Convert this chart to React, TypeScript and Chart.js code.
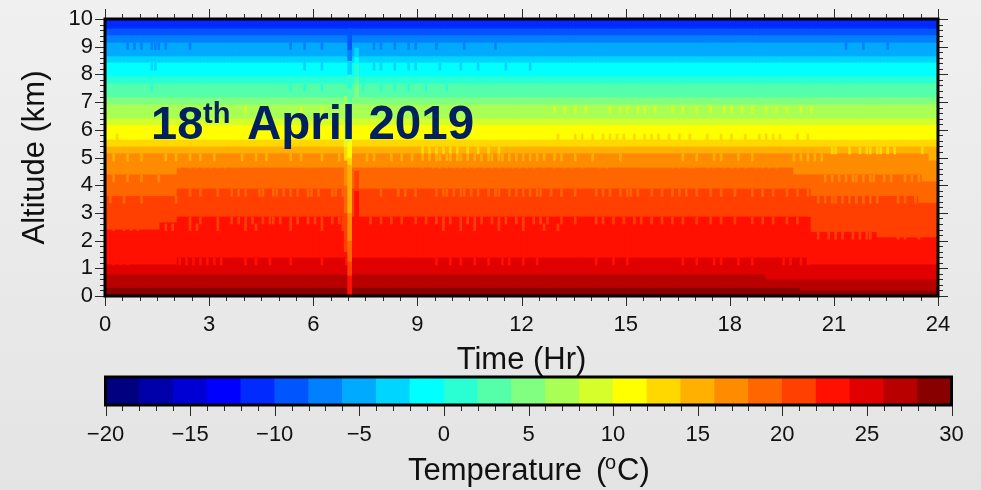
import React, { useEffect, useRef } from "react";
import { Chart, registerables } from "chart.js";

Chart.register(...registerables);

const FONT = "'Liberation Sans', Arial, sans-serif";

// colour scale: lower edge of every 2-degree class, and its colour
const bandTemps = [-20, -18, -16, -14, -12, -10, -8, -6, -4, -2, 0, 2, 4, 6, 8, 10, 12, 14, 16, 18, 20, 22, 24, 26, 28];
const bandColors = [
  "#000080", "#0000aa", "#0000d5", "#0000ff", "#002aff", "#0055ff", "#0080ff", "#00aaff", "#00d5ff", "#00ffff",
  "#2affd4", "#55ffaa", "#80ff80", "#aaff55", "#d4ff2a", "#ffff00", "#ffd800", "#ffb000", "#ff8c00", "#ff6600",
  "#ff4000", "#ff1000", "#e00000", "#b80000", "#880000",
];
const colorTicks = [-20, -15, -10, -5, 0, 5, 10, 15, 20, 25, 30];

// time columns of the field (0.1 hr)
const timeColumns: string[] = [];
for (let i = 0; i < 240; i++) timeColumns.push((i / 10).toFixed(1));

// top altitude (km) of each temperature class: [from hour, altitude]
const classTops: [number, [number, number][]][] = [
  [-12, [[0, 10]]],
  [-10, [[0, 9.64]]],
  [-8, [[0, 9.39]]],
  [-6, [[0, 9.13]]],
  [-4, [[0, 8.63]]],
  [-2, [[0, 8.41]]],
  [0, [[0, 7.91]]],
  [2, [[0, 7.65]]],
  [4, [[0, 7.15]]],
  [6, [[0, 6.9]]],
  [8, [[0, 6.39]]],
  [10, [[0, 6.14]]],
  [12, [[0, 5.63]]],
  [14, [[0, 5.38]]],
  [16, [[0, 5.13], [23.7, 4.87]]],
  [18, [[0, 4.37], [2.1, 4.62], [19.8, 4.37], [23.5, 4.12]]],
  [20, [[0, 3.6], [2.1, 3.86], [20.3, 3.6], [23.4, 3.35]]],
  [22, [[0, 2.38], [1.6, 2.64], [2.1, 2.85], [20.3, 2.3], [22.2, 2.1]]],
  [24, [[0, 1.12], [2.1, 1.37], [20.2, 1.12]]],
  [26, [[0, 0.76], [19, 0.58]]],
  [28, [[0, 0.28], [20, 0.18]]],
];

// short excursions: [class, from km, to km, hours]
const excursions: [number, number, number, number[]][] = [
  [-8, 8.9, 9.13, [0.6, 0.8, 1.0, 1.3, 1.4, 1.5, 1.7, 2.4, 5.3, 5.7, 6.2, 7.7, 7.9, 8.3, 8.7, 8.9, 9.5, 10.3, 11.2, 21.3, 21.8, 22.5]],
  [-4, 8.15, 8.41, [1.3, 1.4, 5.7, 6.2, 7.7, 7.9, 8.3, 8.7, 8.9, 9.6, 10.2, 10.7, 11.5, 12.2]],
  [0, 7.4, 7.65, [1.3, 5.3, 5.7, 6.2, 7.4, 7.9, 8.3, 8.7, 9.2, 9.8]],
  [8, 6.6, 6.85, [3.4, 4.0, 4.6, 5.6, 6.2, 12.9, 13.2, 13.5, 13.8, 14.5, 14.8, 15.0, 15.3, 15.5, 15.8, 16.3, 16.6, 17.0, 17.4, 17.8, 18.0, 18.3, 18.6, 19.0, 19.3, 19.6, 20.0, 20.3]],
  [12, 5.63, 5.85, [0.3, 13.0, 13.5, 13.7, 14.0, 14.3, 14.5, 14.7, 14.9, 15.2, 15.5, 15.7, 15.9, 16.2, 16.5, 16.8, 17.3, 17.7, 18.0, 18.4, 18.8, 19.0, 19.2, 19.4, 19.9, 20.2]],
  [12, 5.13, 5.38, [9.1, 9.3, 9.5, 9.7, 9.9, 10.1, 10.4, 10.7, 11.0, 11.3, 20.9, 21.0, 21.4, 21.7, 21.9, 22.0, 22.2, 22.3, 22.5, 22.7, 23.5]],
  [14, 4.87, 5.13, [0.2, 0.6, 1.0, 1.7, 2.0, 2.4, 2.7, 3.1, 3.9, 4.3, 4.6, 5.3, 5.6, 6.2, 6.7, 7.5, 7.7, 8.2, 8.5, 8.8, 9.1, 9.3, 9.5, 9.6, 9.8, 9.9, 10.1, 10.2, 10.4, 10.6, 10.8, 11.0, 11.1, 11.3, 11.4, 11.6, 11.8, 12.0, 12.2, 12.4, 12.6, 12.9, 13.1, 13.5, 14.0, 14.8, 16.6, 17.0, 17.5, 17.7, 18.2, 18.6, 19.8, 20.0, 20.2, 20.4, 20.6]],
  [16, 4.62, 4.87, [2.1, 2.4, 2.6, 2.8, 3.0, 3.2, 3.4, 9.1, 9.4, 9.6, 9.8, 10.0, 10.2, 10.4, 10.6, 10.9, 11.1, 11.3, 11.5, 11.7, 11.9, 12.1, 12.3, 12.6, 12.9, 13.2, 13.4, 13.7, 14.2, 14.4, 16.3, 16.5, 16.8, 16.9, 17.3, 17.5, 17.8, 18.0, 18.2, 18.4, 18.7, 18.9, 19.1, 19.3, 19.9, 20.0]],
  [16, 4.12, 4.37, [0.2, 0.6, 1.0, 1.5, 20.7, 20.9, 21.1, 21.3, 21.5, 21.6, 21.8, 22.0, 22.1, 22.4, 22.6, 23.0, 23.2, 23.4]],
  [18, 3.6, 3.86, [2.4, 2.7, 3.2, 3.6, 3.8, 4.0, 4.4, 4.5, 4.8, 4.9, 5.1, 5.3, 5.5, 5.8, 5.9, 6.1, 6.5, 6.6, 6.8, 7.9, 8.4, 8.6, 8.9, 9.5, 9.7, 9.8, 10.0, 10.2, 10.3, 10.5, 10.7, 11.0, 11.2, 11.3, 11.6, 11.8, 12.0, 12.2, 12.4, 12.5, 12.8, 13.1, 13.5, 14.1, 14.3, 14.5, 14.8, 15.0, 15.1, 15.3, 15.7, 16.0, 16.3, 16.5, 16.7, 17.0, 17.4, 17.7, 18.1, 18.6, 18.9, 19.2, 19.6, 19.9, 20.2]],
  [18, 3.35, 3.6, [0.1, 0.5, 1.0, 2.0, 20.5, 20.7, 20.9, 21.0, 21.2, 21.4, 21.6, 21.8, 22.0, 22.2, 22.8, 23.0, 23.3]],
  [20, 2.6, 2.85, [2.4, 2.7, 3.2, 3.6, 3.8, 4.0, 4.2, 4.5, 4.7, 4.8, 5.0, 5.3, 5.5, 5.8, 6.0, 6.2, 6.5, 6.7, 6.8, 7.6, 7.9, 8.2, 8.5, 8.9, 9.2, 9.5, 9.7, 9.9, 10.2, 10.4, 10.6, 10.8, 11.1, 11.3, 11.5, 11.8, 12.0, 12.3, 12.5, 12.7, 13.1, 13.5, 14.1, 14.3, 14.6, 14.9, 15.2, 15.4, 15.7, 16.0, 16.3, 16.6, 17.0, 17.4, 17.7, 18.1, 18.6, 18.9, 19.2, 19.6, 19.9]],
  [20, 2.36, 2.6, [0.2, 0.5, 0.7, 0.9, 1.7, 1.9, 2.4, 2.6, 3.2, 4.0, 4.3, 5.3, 6.2, 6.8, 9.7, 10.2, 10.6, 11.3, 12.0, 12.6, 13.0]],
  [20, 2.05, 2.3, [20.5, 20.8, 21.0, 21.2, 21.5, 21.7, 21.9, 22.0, 22.8, 23.0, 23.4]],
  [22, 1.12, 1.37, [0.2, 0.4, 0.6, 2.1, 2.3, 2.5, 2.7, 2.9, 3.1, 3.3, 4.0, 4.3, 4.7, 5.3, 6.2, 6.9, 9.5, 9.9, 10.2, 10.6, 11.0, 11.4, 11.6, 12.0, 12.4, 14.1, 14.6, 15.0, 16.6, 17.0, 17.5, 17.7, 18.2, 18.6, 19.5, 19.7, 20.0, 20.2]],
];

// warm-air column near 07 hr: [class, from km, to km]
const columnCore: [number, number, number][] = [
  [22, 0, 0.75], [20, 0.75, 1.25], [18, 1.25, 2], [16, 2, 3], [14, 3, 4.75], [12, 4.75, 5],
  [10, 5, 5.6], [8, 5.6, 6.1], [6, 6.1, 6.5], [4, 6.5, 7], [2, 7, 7.5], [0, 7.5, 8],
  [-4, 8, 8.5], [-8, 8.5, 8.9], [-10, 8.9, 9.65],
];
const columnLeft: [number, number, number][] = [
  [20, 1.6, 3], [18, 3, 4], [16, 4, 4.9], [12, 4.9, 5.4], [8, 5.4, 6.3], [6, 6.3, 7.2],
];
const columnRight: [number, number, number][] = [
  [22, 2.5, 3.8], [20, 3.8, 4.5], [4, 7.15, 7.65], [2, 7.65, 7.91], [0, 7.91, 8.41], [-2, 8.41, 8.63], [-4, 8.63, 8.95],
];

const colorOf = (t: number) => bandColors[bandTemps.indexOf(t)];
const minus = (v: number) => (v < 0 ? "\u2212" + Math.abs(v) : String(v));

type Run = [string, string, number, number];
function drawRuns(ctx: CanvasRenderingContext2D, y: number, runs: Run[], color: string) {
  ctx.fillStyle = color;
  ctx.textAlign = "left";
  ctx.textBaseline = "alphabetic";
  for (const [text, font, x, rise] of runs) {
    ctx.font = font;
    ctx.fillText(text, x, y - rise);
  }
}

const fieldFrame = {
  id: "fieldFrame",
  afterDraw(chart: any) {
    const { ctx, chartArea: a } = chart;
    const xs = chart.scales.xTime;
    const ys = chart.scales.y;
    ctx.save();
    ctx.strokeStyle = "#2a2a2a";
    ctx.lineWidth = 1;
    ctx.beginPath();
    for (let i = 0; i <= 48; i++) {
      const px = Math.round(xs.getPixelForValue(i / 2)) + 0.5;
      const len = i % 6 === 0 ? 10 : 5;
      ctx.moveTo(px, a.bottom);
      ctx.lineTo(px, a.bottom + len);
      ctx.moveTo(px, a.top);
      ctx.lineTo(px, a.top - len);
    }
    for (let i = 0; i <= 50; i++) {
      const py = Math.round(ys.getPixelForValue(i / 5)) + 0.5;
      const len = i % 5 === 0 ? 10 : 5;
      ctx.moveTo(a.left, py);
      ctx.lineTo(a.left - len, py);
      ctx.moveTo(a.right, py);
      ctx.lineTo(a.right + len, py);
    }
    ctx.stroke();
    ctx.strokeStyle = "#000";
    ctx.lineWidth = 3;
    ctx.strokeRect(a.left, a.top, a.right - a.left, a.bottom - a.top);
    drawRuns(
      ctx,
      139,
      [
        ["18", `bold 47px ${FONT}`, 151, 0],
        ["th", `bold 29px ${FONT}`, 203, 16],
        ["April 2019", `bold 47.5px ${FONT}`, 247, 0],
      ],
      "#002060"
    );
    ctx.restore();
  },
};

const barFrame = {
  id: "barFrame",
  afterDraw(chart: any) {
    const { ctx, chartArea: a } = chart;
    const xs = chart.scales.x;
    ctx.save();
    ctx.strokeStyle = "#2a2a2a";
    ctx.lineWidth = 1;
    ctx.beginPath();
    for (let v = -20; v <= 30; v++) {
      const px = Math.round(xs.getPixelForValue(v)) + 0.5;
      ctx.moveTo(px, a.bottom);
      ctx.lineTo(px, a.bottom + (v % 5 === 0 ? 11 : 6));
    }
    ctx.stroke();
    ctx.strokeStyle = "#000";
    ctx.lineWidth = 3;
    ctx.strokeRect(a.left, a.top, a.right - a.left, a.bottom - a.top);
    drawRuns(
      ctx,
      110,
      [
        ["Temperature", `31px ${FONT}`, 408, 0],
        ["(", `31px ${FONT}`, 596, 0],
        ["o", `20px ${FONT}`, 605, 11],
        ["C)", `31px ${FONT}`, 617, 0],
      ],
      "#111"
    );
    ctx.restore();
  },
};

const noPadding = (s: any) => {
  s.paddingTop = 0;
  s.paddingBottom = 0;
  s.paddingLeft = 0;
  s.paddingRight = 0;
};

export default function App() {
  const fieldRef = useRef<HTMLCanvasElement>(null);
  const barRef = useRef<HTMLCanvasElement>(null);

  useEffect(() => {
    const classSets = classTops.map(([temp, steps]) => ({
      label: `${temp} to ${temp + 2} \u00b0C`,
      order: 100 - temp,
      grouped: false,
      barThickness: 5,
      borderWidth: 0,
      backgroundColor: colorOf(temp),
      data: timeColumns.map((c) => {
        let top = steps[0][1];
        for (const [from, alt] of steps) if (Number(c) >= from) top = alt;
        return { x: c, y: [0, top] };
      }),
    }));

    const excursionData: any[] = [];
    for (const [temp, lo, hi, hours] of excursions)
      for (const h of hours) excursionData.push({ x: h.toFixed(1), y: [lo, hi], temp });

    const columnData: any[] = [];
    for (const [temp, lo, hi] of columnRight) columnData.push({ x: "7.2", y: [lo, hi], temp });
    for (const [temp, lo, hi] of columnLeft) columnData.push({ x: "6.9", y: [lo, hi], temp });
    for (const [temp, lo, hi] of columnCore) columnData.push({ x: "7.0", y: [lo, hi], temp });

    const field = new Chart(fieldRef.current!, {
      type: "bar",
      data: {
        labels: timeColumns,
        datasets: [
          {
            label: "Column",
            order: 0,
            grouped: false,
            barThickness: 4,
            borderWidth: 0,
            data: columnData,
            backgroundColor: (c: any) => colorOf(c.raw?.temp ?? 22),
          },
          {
            label: "Excursions",
            order: 1,
            grouped: false,
            barThickness: 2,
            borderWidth: 0,
            data: excursionData,
            backgroundColor: (c: any) => colorOf(c.raw?.temp ?? 22),
          },
          ...classSets,
        ] as any,
      },
      plugins: [fieldFrame],
      options: {
        responsive: false,
        animation: false,
        layout: { autoPadding: false, padding: { top: 19, left: 0, right: 43, bottom: 0 } },
        plugins: { legend: { display: false }, tooltip: { enabled: false } },
        scales: {
          x: { type: "category", offset: true, display: false, grid: { display: false } },
          xTime: {
            type: "linear",
            position: "bottom",
            offset: false,
            min: 0,
            max: 24,
            afterFit: (s: any) => {
              s.height = 83;
              noPadding(s);
            },
            grid: { display: false, drawTicks: false, offset: false },
            border: { display: false },
            ticks: {
              stepSize: 3,
              padding: 16,
              maxRotation: 0,
              autoSkip: false,
              color: "#111",
              font: { family: FONT, size: 22 },
            },
            title: { display: true, text: "Time (Hr)", color: "#111", padding: 0, font: { family: FONT, size: 31 } },
          },
          y: {
            type: "linear",
            min: 0,
            max: 10,
            afterFit: (s: any) => {
              s.width = 105;
              noPadding(s);
            },
            grid: { display: false, drawTicks: false },
            border: { display: false },
            ticks: { stepSize: 1, padding: 12, autoSkip: false, color: "#111", font: { family: FONT, size: 22 } },
            title: { display: true, text: "Altitude (km)", color: "#111", padding: 17, font: { family: FONT, size: 31 } },
          },
        },
      } as any,
    });

    const bar = new Chart(barRef.current!, {
      type: "bar",
      data: {
        labels: ["Temperature"],
        datasets: bandTemps.map((t) => ({
          label: `${t}`,
          order: 100 - t,
          grouped: false,
          barThickness: 30,
          borderWidth: 0,
          backgroundColor: colorOf(t),
          data: [{ x: [t, 30], y: "Temperature" }],
        })) as any,
      },
      plugins: [barFrame],
      options: {
        indexAxis: "y",
        responsive: false,
        animation: false,
        layout: { autoPadding: false, padding: { top: 7, left: 105.5, right: 29.5, bottom: 0 } },
        plugins: { legend: { display: false }, tooltip: { enabled: false } },
        scales: {
          y: { type: "category", offset: true, display: false, grid: { display: false } },
          x: {
            type: "linear",
            offset: false,
            min: -20,
            max: 30,
            afterFit: (s: any) => {
              s.height = 85;
              noPadding(s);
            },
            grid: { display: false, drawTicks: false },
            border: { display: false },
            ticks: {
              stepSize: 5,
              padding: 17,
              maxRotation: 0,
              autoSkip: false,
              color: "#111",
              font: { family: FONT, size: 22 },
              callback: (v: any) => (colorTicks.includes(Number(v)) ? minus(Number(v)) : ""),
            },
          },
        },
      } as any,
    });

    return () => {
      field.destroy();
      bar.destroy();
    };
  }, []);

  return (
    <div
      style={{
        position: "absolute",
        left: 0,
        top: 0,
        width: 981,
        height: 490,
        overflow: "hidden",
        background: "linear-gradient(#f0f0f0, #e4e4e4)",
      }}
    >
      <canvas
        ref={fieldRef}
        width={981}
        height={379}
        style={{ position: "absolute", left: 0, top: 0, filter: "blur(0.6px)" }}
      />
      <canvas
        ref={barRef}
        width={981}
        height={120}
        style={{ position: "absolute", left: 0, top: 370, filter: "blur(0.5px)" }}
      />
    </div>
  );
}
